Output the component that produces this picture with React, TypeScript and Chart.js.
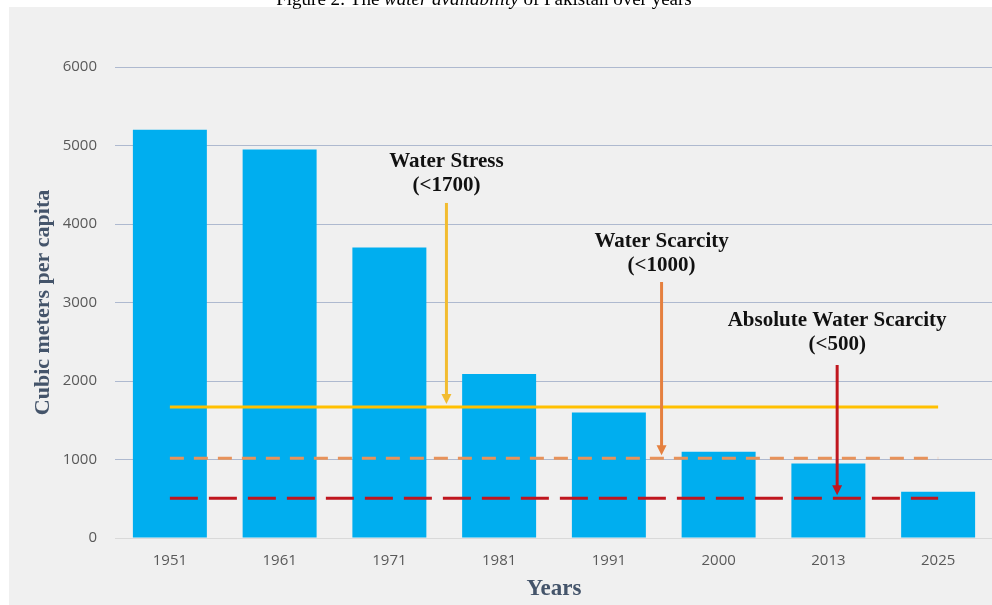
import React, { useEffect, useRef } from "react";
import { Chart, registerables } from "chart.js";

Chart.register(...registerables);

const years = ["1951", "1961", "1971", "1981", "1991", "2000", "2013", "2025"];
const waterPerCapita = [5200, 4950, 3700, 2090, 1600, 1100, 950, 590];
const stressLevel = 1670;
const scarcityLevel = 1015;
const absoluteLevel = 505;
const yTicks = [0, 1000, 2000, 3000, 4000, 5000, 6000];

const noteLine1 = ["Water Stress", "Water Scarcity", "Absolute Water Scarcity"];
const noteLine2 = ["(<1700)", "(<1000)", "(<500)"];
const notePos = [2.52, 4.48, 6.08];
const noteTextY = [4790, 3780, 2765];
const arrowFrom = [4268, 3261, 2204];
const arrowTo = [stressLevel, scarcityLevel, absoluteLevel];
const noteColors = ["#F2BC30", "#E5803F", "#C0161E"];

const notesPlugin = {
  id: "notes",
  afterDatasetsDraw(chart: any) {
    const { ctx, scales } = chart;
    const x = scales.x;
    const y = scales.y;
    const x0 = x.getPixelForValue(0);
    const cw = x.getPixelForValue(1) - x0;
    ctx.save();
    for (let i = 0; i < noteLine1.length; i++) {
      const px = x0 + cw * notePos[i];
      const ty = y.getPixelForValue(noteTextY[i]);
      ctx.fillStyle = "#111111";
      ctx.font = "bold 21px 'Liberation Serif', serif";
      ctx.textAlign = "center";
      ctx.textBaseline = "middle";
      ctx.fillText(noteLine1[i], px, ty);
      ctx.fillText(noteLine2[i], px, ty + 24);
      const yStart = y.getPixelForValue(arrowFrom[i]);
      const yTip = y.getPixelForValue(arrowTo[i]) - 3;
      const head = 10;
      ctx.strokeStyle = noteColors[i];
      ctx.fillStyle = noteColors[i];
      ctx.lineWidth = 3;
      ctx.beginPath();
      ctx.moveTo(px, yStart);
      ctx.lineTo(px, yTip - head + 1);
      ctx.stroke();
      ctx.beginPath();
      ctx.moveTo(px - 5, yTip - head);
      ctx.lineTo(px + 5, yTip - head);
      ctx.lineTo(px, yTip);
      ctx.closePath();
      ctx.fill();
    }
    ctx.restore();
  },
};

export default function App() {
  const ref = useRef<HTMLCanvasElement>(null);
  useEffect(() => {
    if (!ref.current) return;
    const chart = new Chart(ref.current, {
      type: "bar",
      data: {
        labels: years,
        datasets: [
          {
            type: "line",
            label: "Water Stress",
            data: years.map(() => stressLevel),
            borderColor: "#FFC000",
            borderWidth: 3,
            pointRadius: 0,
            order: 0,
          },
          {
            type: "line",
            label: "Water Scarcity",
            data: years.map(() => scarcityLevel),
            borderColor: "#E8925A",
            borderWidth: 3,
            borderDash: [14, 10],
            pointRadius: 0,
            order: 0,
          },
          {
            type: "line",
            label: "Absolute Water Scarcity",
            data: years.map(() => absoluteLevel),
            borderColor: "#C0161E",
            borderWidth: 3,
            borderDash: [28, 11],
            pointRadius: 0,
            order: 0,
          },
          {
            type: "bar",
            label: "Cubic meters per capita",
            data: waterPerCapita,
            backgroundColor: "#00AEEF",
            categoryPercentage: 1,
            barPercentage: 0.674,
            order: 1,
          },
        ] as any,
      },
      options: {
        animation: false,
        responsive: false,
        maintainAspectRatio: false,
        layout: { padding: { top: 60, right: 6, left: 0, bottom: 0 } },
        plugins: { legend: { display: false }, tooltip: { enabled: false } },
        scales: {
          x: {
            grid: { display: false, drawTicks: false },
            border: { display: false },
            ticks: {
              color: "#595959",
              font: { family: "'Open Sans', sans-serif", size: 15 },
              padding: 14,
            },
            title: {
              display: true,
              text: "Years",
              color: "#44546A",
              font: { family: "'Liberation Serif', serif", size: 23, weight: "bold" },
              padding: { top: 0, bottom: 2 },
            },
            afterFit(scale: any) {
              scale.height = 67;
            },
          },
          y: {
            min: 0,
            max: 6000,
            afterBuildTicks(scale: any) {
              scale.ticks = yTicks.map((v) => ({ value: v }));
            },
            grid: {
              drawTicks: false,
              color: (c: any) => (c.tick && c.tick.value === 0 ? "#D9D9D9" : "#AEB9CF"),
              lineWidth: 1,
            },
            border: { display: false },
            ticks: {
              color: "#595959",
              font: { family: "'Open Sans', sans-serif", size: 15 },
              padding: 18,
              callback: (v: any) => String(v),
            },
            title: {
              display: true,
              text: "Cubic meters per capita",
              color: "#44546A",
              font: { family: "'Liberation Serif', serif", size: 22, weight: "bold" },
              padding: { top: 21, bottom: 0 },
            },
            afterFit(scale: any) {
              scale.width = 106;
            },
          },
        },
      } as any,
      plugins: [notesPlugin],
    });
    return () => chart.destroy();
  }, []);

  return (
    <div
      style={{
        position: "fixed",
        left: 0,
        top: 0,
        width: 992,
        height: 605,
        overflow: "hidden",
        background: "#FFFFFF",
      }}
    >
      <div
        style={{
          position: "absolute",
          left: 9,
          top: 7,
          width: 990,
          height: 598,
          background: "#F0F0F0",
        }}
      >
        <canvas ref={ref} width={990} height={598} style={{ width: 990, height: 598, display: "block" }} />
      </div>
      <div
        style={{
          position: "absolute",
          left: 0,
          top: -11,
          width: 968,
          textAlign: "center",
          fontFamily: "'Liberation Serif', serif",
          fontSize: 19,
          lineHeight: "19px",
          color: "#000",
          whiteSpace: "nowrap",
        }}
      >
        Figure 2: The <i>water availability</i> of Pakistan over years
      </div>
    </div>
  );
}
